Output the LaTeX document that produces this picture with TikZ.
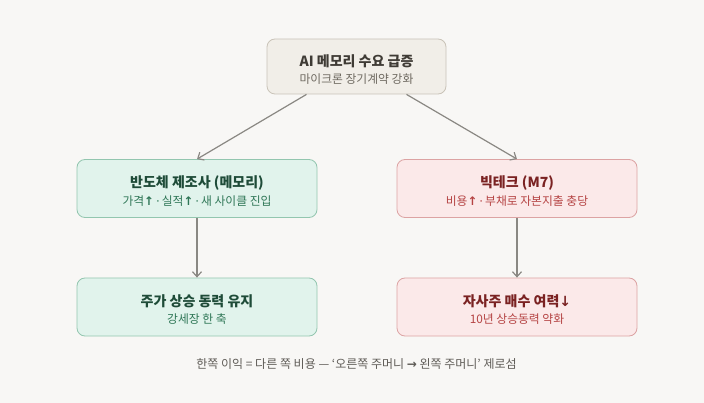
\documentclass[tikz,border=0pt]{standalone}
\usepackage{fontspec}
\setmainfont{Noto Sans CJK KR}
\newfontfamily\symfont{DejaVu Sans}
\usetikzlibrary{arrows.meta}

\definecolor{bgpage}{HTML}{F8F7F5}
\definecolor{topfill}{HTML}{F1EEE8}
\definecolor{topline}{HTML}{C9C3B8}
\definecolor{topdark}{HTML}{3F3B35}
\definecolor{topsub}{HTML}{6E6960}
\definecolor{grnfill}{HTML}{E1F3EC}
\definecolor{grnline}{HTML}{93C6AF}
\definecolor{grndark}{HTML}{1E4B38}
\definecolor{grnsub}{HTML}{2E7656}
\definecolor{redfill}{HTML}{FBE9E9}
\definecolor{redline}{HTML}{DCA3A3}
\definecolor{reddark}{HTML}{7A2222}
\definecolor{redsub}{HTML}{B54343}
\definecolor{arrowgray}{HTML}{8A8883}
\definecolor{notegray}{HTML}{5F5C57}

\tikzset{
  box/.style={rounded corners=8pt, line width=0.8pt, align=center,
    inner sep=0pt, minimum width=240pt, minimum height=58pt},
  topbox/.style={box, fill=topfill, draw=topline, minimum width=179pt, minimum height=55pt},
  grnbox/.style={box, fill=grnfill, draw=grnline},
  redbox/.style={box, fill=redfill, draw=redline},
  arr/.style={-{Straight Barb[length=5pt,width=9pt]}, draw=arrowgray, line width=1.2pt},
}

% petites flèches et point médian plus serrés
\newcommand{\up}{{\symfont\bfseries ↑}}
\newcommand{\dn}{{\symfont\bfseries ↓}}
\newcommand{\md}{\,{\symfont ·}\,}
\newcommand{\boxtext}[4]{%
  \rule{0pt}{17pt}{\fontsize{14}{17}\selectfont\bfseries\color{#1}#2}\\[5pt]%
  {\fontsize{11.8}{14}\selectfont\color{#3}#4}}

\begin{document}
\begin{tikzpicture}[x=1pt, y=-1pt]
  % fond et cadre
  \fill[bgpage] (0,0) rectangle (704,403);
  \useasboundingbox (0,0) rectangle (704,403);

  % boîte du haut
  \node[topbox] (demand) at (356.5,66.5)
    {\boxtext{topdark}{AI 메모리 수요 급증}{topsub}{마이크론 장기계약 강화}};

  % colonne gauche : fabricants
  \node[grnbox] (maker) at (197,188.5)
    {\boxtext{grndark}{반도체 제조사 (메모리)}{grnsub}{가격\up\md 실적\up\md 새 사이클 진입}};
  \node[grnbox] (makerstock) at (197,307)
    {\boxtext{grndark}{주가 상승 동력 유지}{grnsub}{강세장 한 축}};

  % colonne droite : big tech
  \node[redbox] (bigtech) at (517,188.5)
    {\boxtext{reddark}{빅테크 (M7)}{redsub}{비용\up\md 부채로 자본지출 충당}};
  \node[redbox] (buyback) at (517,307)
    {\boxtext{reddark}{자사주 매수 여력\dn}{redsub}{10년 상승동력 약화}};

  % flèches
  \draw[arr] ([xshift=-50pt]demand.south) -- (maker.north);
  \draw[arr] ([xshift=50pt]demand.south) -- (bigtech.north);
  \draw[arr] (maker) -- (makerstock);
  \draw[arr] (bigtech) -- (buyback);

  % note en bas
  \node[text=notegray, font=\fontsize{12}{14}\selectfont] (note) at (356.5,364.5)
    {한쪽 이익 = 다른 쪽 비용 — ‘오른쪽 주머니 {\symfont\bfseries →} 왼쪽 주머니’ 제로섬};
\end{tikzpicture}
\end{document}
